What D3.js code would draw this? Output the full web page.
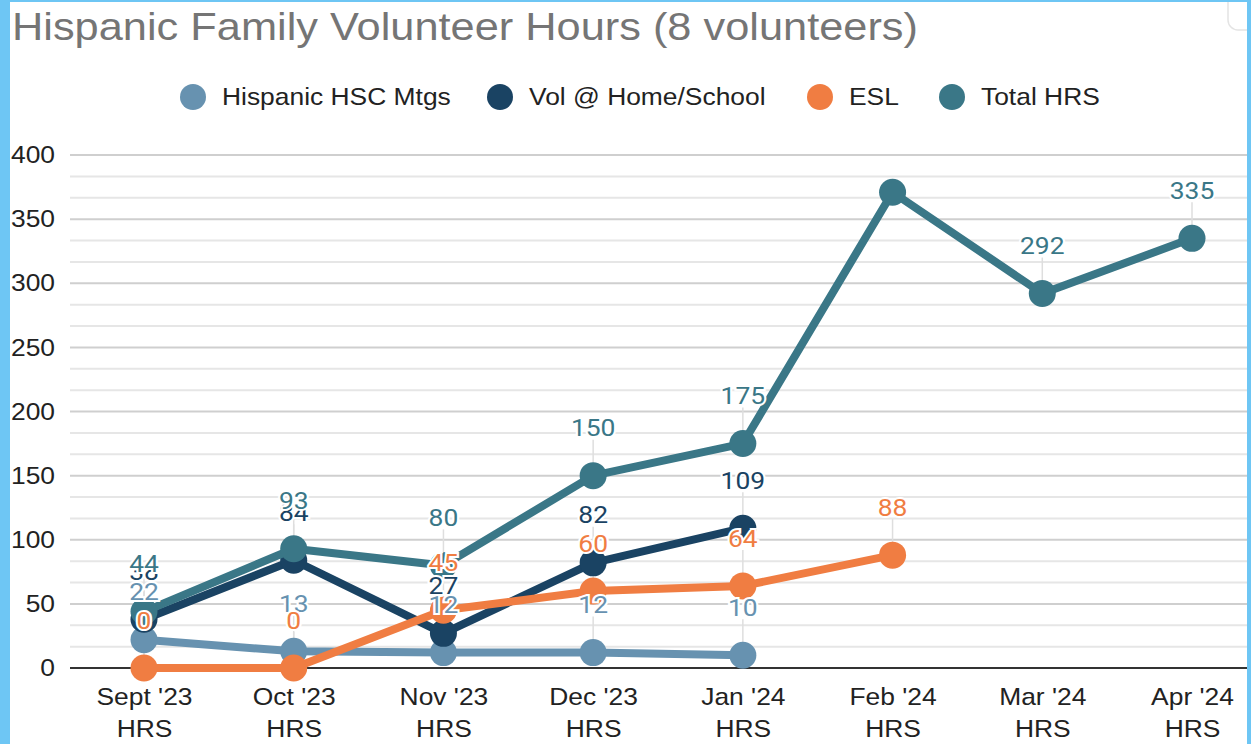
<!DOCTYPE html>
<html>
<head>
<meta charset="utf-8">
<script src="https://cdn.jsdelivr.net/npm/d3@7"></script>
<style>
  body { margin: 0; background: #fff; }
  svg { display: block; }
</style>
</head>
<body>
<div id="chart"></div>
<script>
// chart data
var months = ["Sept '23", "Oct '23", "Nov '23", "Dec '23", "Jan '24", "Feb '24", "Mar '24", "Apr '24"];
var hispanicMtgs = [22, 13, 12, 12, 10, null, null, null];
var volHomeSchool = [38, 84, 27, 82, 109, null, null, null];
var esl = [0, 0, 45, 60, 64, 88, null, null];
var totalHrs = [44, 93, 80, 150, 175, 371, 292, 335];
var seriesNames = ["Hispanic HSC Mtgs", "Vol @ Home/School", "ESL", "Total HRS"];
var seriesColors = ["#6792b0", "#1a4363", "#f07d42", "#3a7787"];
var yTicks = [0, 50, 100, 150, 200, 250, 300, 350, 400];

var svgWidth = 1251;
var svgHeight = 744;
var stretch = 1.1; // the screenshot is a bit wider than tall

var svg = d3.select("#chart")
  .append("svg")
  .attr("width", svgWidth)
  .attr("height", svgHeight);

// scales
var x = d3.scalePoint().domain(months).range([144, 1192]);
var y = d3.scaleLinear().domain([0, 400]).range([668, 155]);
var gridLeft = 70, gridRight = 1247;

function placeText(sel, px, py) {
  return sel.attr("transform", `translate(${px},${py}) scale(${stretch},1)`);
}

// title
svg.append("text")
  .attr("x", 12)
  .attr("y", 40)
  .attr("font-family", "Liberation Sans, Arial, sans-serif")
  .attr("font-size", 39)
  .attr("fill", "#757575")
  .attr("textLength", 906)
  .attr("lengthAdjust", "spacingAndGlyphs")
  .text("Hispanic Family Volunteer Hours (8 volunteers)");

// legend
var legendX = [193, 500, 820, 952];
var legend = svg.append("g");
seriesNames.forEach(function(name, i) {
  legend.append("circle")
    .attr("cx", legendX[i]).attr("cy", 97).attr("r", 13)
    .attr("fill", seriesColors[i]);
  legend.append("text")
    .call(placeText, legendX[i] + 29, 97)
    .attr("dy", "0.35em")
    .attr("font-family", "Liberation Sans, Arial, sans-serif")
    .attr("font-size", 24)
    .attr("fill", "#222")
    .text(name);
});

// minor gridlines (2 between each major)
var minor = [];
for (var k = 0; k <= 24; k++) { if (k % 3 !== 0) minor.push(k * 50 / 3); }
svg.append("g").selectAll("line").data(minor).enter().append("line")
  .attr("x1", gridLeft).attr("x2", gridRight)
  .attr("y1", d => y(d)).attr("y2", d => y(d))
  .attr("stroke", "#e6e6e6").attr("stroke-width", 2);

// major gridlines
svg.append("g").selectAll("line").data(yTicks.slice(1)).enter().append("line")
  .attr("x1", gridLeft).attr("x2", gridRight)
  .attr("y1", d => y(d)).attr("y2", d => y(d))
  .attr("stroke", "#cfcfcf").attr("stroke-width", 2);

// y axis labels
var leftAxis = d3.axisLeft(y).tickValues(yTicks).tickSize(0).tickPadding(0);
var yAxisG = svg.append("g")
  .attr("transform", "translate(55,0)")
  .call(leftAxis);
yAxisG.select(".domain").remove();
yAxisG.selectAll("text")
  .attr("x", 0)
  .attr("transform", `scale(${stretch},1)`)
  .attr("font-family", "Liberation Sans, Arial, sans-serif")
  .attr("font-size", 24)
  .attr("fill", "#222");

// x axis labels, two lines each
var bottomAxis = d3.axisBottom(x).tickSize(0).tickFormat("");
var xAxisG = svg.append("g")
  .attr("transform", "translate(0,668)")
  .call(bottomAxis);
xAxisG.select(".domain").remove();
xAxisG.selectAll(".tick").append("text")
  .attr("transform", `scale(${stretch},1)`)
  .attr("font-family", "Liberation Sans, Arial, sans-serif")
  .attr("font-size", 24)
  .attr("fill", "#222")
  .attr("text-anchor", "middle")
  .each(function(d) {
    var t = d3.select(this);
    t.append("tspan").attr("x", 0).attr("y", 37).text(d);
    t.append("tspan").attr("x", 0).attr("y", 69).text("HRS");
  });

var allSeries = [hispanicMtgs, volHomeSchool, esl, totalHrs];
var labelOffset = 48;

// leader lines from point to label
var leaders = svg.append("g");
allSeries.forEach(function(vals, i) {
  vals.forEach(function(v, j) {
    if (v === null) return;
    if (y(v) - labelOffset < 150) return;
    leaders.append("line")
      .attr("x1", x(months[j])).attr("x2", x(months[j]))
      .attr("y1", y(v)).attr("y2", y(v) - labelOffset + 12)
      .attr("stroke", "#dedede").attr("stroke-width", 1.5);
  });
});

// baseline
svg.append("line")
  .attr("x1", gridLeft).attr("x2", gridRight)
  .attr("y1", y(0)).attr("y2", y(0))
  .attr("stroke", "#333").attr("stroke-width", 2);

// lines and points
var line = d3.line()
  .defined(d => d.v !== null)
  .x(d => x(d.m))
  .y(d => y(d.v));

allSeries.forEach(function(vals, i) {
  var pts = vals.map((v, j) => ({ m: months[j], v: v }));
  var g = svg.append("g");
  g.append("path")
    .datum(pts)
    .attr("d", line)
    .attr("fill", "none")
    .attr("stroke", seriesColors[i])
    .attr("stroke-width", 8)
    .attr("stroke-linejoin", "round");
  g.selectAll("circle").data(pts.filter(d => d.v !== null)).enter().append("circle")
    .attr("cx", d => x(d.m))
    .attr("cy", d => y(d.v))
    .attr("r", 13.5)
    .attr("fill", seriesColors[i]);
});

// data labels (vol first so the others sit over it)
var labelOrder = [1, 0, 2, 3];
labelOrder.forEach(function(i) {
  allSeries[i].forEach(function(v, j) {
    if (v === null) return;
    var ly = y(v) - labelOffset;
    if (ly < 150) return;
    svg.append("text")
      .call(placeText, x(months[j]), ly)
      .attr("dy", "0.36em")
      .attr("text-anchor", "middle")
      .attr("font-family", "Roboto, sans-serif")
      .attr("font-size", 24)
      .attr("fill", seriesColors[i])
      .attr("stroke", "#fff")
      .attr("stroke-width", 4)
      .attr("paint-order", "stroke")
      .text(v);
  });
});

// screenshot frame
svg.append("rect").attr("x", 1228).attr("y", -20).attr("width", 30).attr("height", 50)
  .attr("rx", 10).attr("fill", "#fff").attr("stroke", "#e4e4e4").attr("stroke-width", 1.5);
svg.append("rect").attr("x", 0).attr("y", 0).attr("width", 10).attr("height", svgHeight).attr("fill", "#6ec6f4");
svg.append("rect").attr("x", 1247).attr("y", 0).attr("width", 4).attr("height", svgHeight).attr("fill", "#6ec6f4");
svg.append("rect").attr("x", 0).attr("y", 0).attr("width", svgWidth).attr("height", 2).attr("fill", "#6ec6f4");
</script>
</body>
</html>
